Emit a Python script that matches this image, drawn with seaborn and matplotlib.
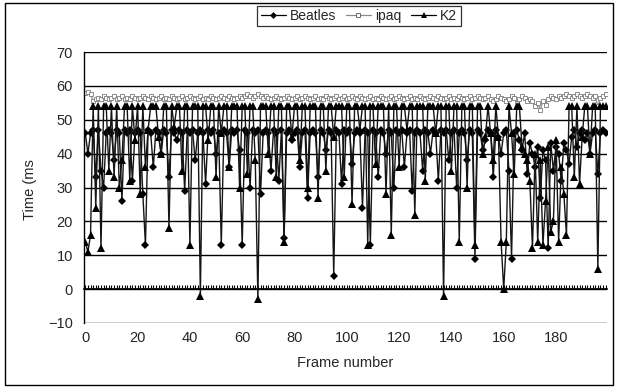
import matplotlib
matplotlib.use("Agg")
import matplotlib.pyplot as plt
import seaborn as sns
import numpy as np
import pandas as pd
from matplotlib.lines import Line2D

frames = list(range(200))

beatles = [
    46, 40, 46, 47, 33, 47, 35, 30, 46, 47,
    46, 38, 47, 46, 26, 47, 46, 47, 32, 46,
    47, 46, 28, 13, 47, 46, 36, 47, 46, 40,
    47, 46, 33, 47, 46, 44, 47, 46, 29, 47,
    46, 47, 38, 46, 47, 46, 31, 47, 46, 47,
    40, 46, 13, 47, 46, 36, 47, 46, 47, 41,
    13, 47, 46, 30, 47, 46, 47, 28, 46, 47,
    46, 35, 47, 46, 32, 47, 15, 46, 47, 44,
    46, 47, 36, 46, 47, 27, 46, 47, 46, 33,
    47, 46, 41, 47, 46, 4, 47, 46, 31, 47,
    46, 47, 37, 46, 47, 46, 24, 47, 46, 13,
    47, 46, 33, 47, 46, 40, 47, 46, 30, 47,
    46, 47, 36, 46, 47, 29, 46, 47, 46, 35,
    47, 46, 40, 47, 46, 32, 47, 46, 47, 38,
    46, 47, 30, 46, 47, 46, 38, 47, 46, 9,
    47, 46, 41, 44, 47, 46, 33, 47, 45, 40,
    46, 47, 35, 9, 46, 47, 44, 41, 46, 34,
    43, 40, 36, 42, 27, 41, 38, 12, 43, 35,
    42, 40, 32, 43, 41, 37, 45, 47, 42, 46,
    47, 44, 46, 40, 46, 47, 34, 46, 47, 46,
]

ipaq = [
    58.0, 58.2, 57.5, 55.5, 56.0, 56.5, 56.0, 57.0, 56.5, 56.0,
    56.5, 57.0, 56.0, 56.5, 57.0, 56.0, 56.5, 56.0, 57.0, 56.5,
    56.0, 56.5, 57.0, 56.5, 56.0, 57.0, 56.5, 56.0, 56.5, 57.0,
    56.0, 56.5, 56.0, 57.0, 56.5, 56.0, 56.5, 57.0, 56.0, 56.5,
    57.0, 56.5, 56.0, 56.5, 57.0, 56.0, 56.5, 56.0, 57.0, 56.5,
    56.0, 56.5, 57.0, 56.5, 56.0, 57.0, 56.5, 56.0, 56.5, 57.0,
    56.5, 57.0, 57.5, 57.0, 56.5, 57.0, 57.5, 57.0, 56.5, 57.0,
    56.5, 56.0, 56.5, 57.0, 56.5, 56.0, 56.5, 57.0, 56.5, 56.0,
    56.5, 57.0, 56.0, 56.5, 57.0, 56.5, 56.0, 56.5, 57.0, 56.0,
    56.5, 56.0, 57.0, 56.5, 56.0, 56.5, 57.0, 56.0, 56.5, 57.0,
    56.0, 56.5, 57.0, 56.5, 56.0, 57.0, 56.5, 56.0, 56.5, 57.0,
    56.0, 56.5, 56.0, 57.0, 56.5, 56.0, 56.5, 57.0, 56.0, 56.5,
    57.0, 56.5, 56.0, 56.5, 57.0, 56.0, 56.5, 56.0, 57.0, 56.5,
    56.0, 56.5, 57.0, 56.5, 56.0, 57.0, 56.5, 56.0, 56.5, 57.0,
    56.0, 56.5, 56.0, 57.0, 56.5, 56.0, 56.5, 57.0, 56.0, 56.5,
    57.0, 56.5, 56.0, 56.5, 57.0, 56.0, 55.5, 56.0, 57.0, 56.5,
    56.0, 55.5, 56.0, 57.0, 56.5, 55.0, 56.0, 57.0, 56.5, 55.5,
    56.0, 55.5, 54.0, 55.0, 53.0, 55.5, 54.5, 56.0, 57.0, 56.5,
    56.0, 57.0, 56.5, 57.0, 57.5, 57.0, 56.5, 57.0, 57.5, 57.0,
    56.5, 57.0, 57.5, 57.0, 56.5, 57.0, 54.0, 56.5, 57.0, 57.5,
]

k2 = [
    14, 11, 16, 54, 24, 54, 12, 54, 54, 35,
    54, 33, 54, 30, 38, 54, 54, 32, 54, 44,
    54, 28, 54, 36, 47, 54, 54, 54, 45, 40,
    54, 54, 18, 54, 48, 54, 54, 35, 54, 54,
    13, 54, 54, 54, -2, 54, 54, 44, 54, 54,
    33, 54, 46, 54, 54, 36, 54, 54, 54, 30,
    54, 54, 34, 54, 54, 38, -3, 54, 54, 54,
    40, 54, 54, 33, 54, 54, 14, 54, 54, 45,
    54, 54, 38, 54, 54, 30, 54, 54, 54, 27,
    54, 54, 35, 54, 54, 45, 54, 54, 54, 33,
    54, 54, 25, 54, 54, 47, 54, 54, 13, 54,
    54, 37, 54, 54, 54, 28, 54, 16, 54, 54,
    36, 54, 54, 47, 54, 54, 22, 54, 54, 54,
    32, 54, 54, 54, 46, 54, 54, -2, 54, 54,
    35, 54, 54, 14, 54, 54, 30, 54, 54, 13,
    54, 54, 40, 45, 54, 46, 38, 54, 45, 14,
    0, 14, 54, 46, 34, 54, 54, 42, 40, 38,
    32, 12, 40, 14, 38, 13, 26, 42, 17, 20,
    44, 14, 36, 28, 16, 54, 54, 33, 54, 31,
    45, 54, 54, 40, 54, 54, 6, 54, 54, 54,
]

series_names = ["Beatles", "ipaq", "K2"]
x_tick_labels = [0, 20, 40, 60, 80, 100, 120, 140, 160, 180]
y_ticks = [-10, 0, 10, 20, 30, 40, 50, 60, 70]

sns.set_style("white")
plt.rcParams["font.family"] = ["Liberation Sans", "DejaVu Sans"]

fig = plt.figure(figsize=(6.19, 3.91), dpi=100)
ax = fig.add_axes([84 / 619, 1 - 323 / 391, (607 - 84) / 619, (323 - 52) / 391])

df_b = pd.DataFrame({"frame": frames, "value": beatles})
df_i = pd.DataFrame({"frame": frames, "value": ipaq})
df_k = pd.DataFrame({"frame": frames, "value": k2})

sns.lineplot(data=df_b, x="frame", y="value", ax=ax, color="#151515", lw=1.0,
             marker="D", markersize=4.3, markeredgewidth=0, markerfacecolor="black")
sns.lineplot(data=df_i, x="frame", y="value", ax=ax, color="#8f8f8f", lw=0.9,
             marker="s", markersize=3.0, markerfacecolor="white",
             markeredgecolor="#7a7a7a", markeredgewidth=0.6)
sns.lineplot(data=df_k, x="frame", y="value", ax=ax, color="#151515", lw=1.0,
             marker="^", markersize=5.3, markeredgewidth=0, markerfacecolor="black")

ax.set_xlim(-0.5, 199.5)
ax.set_ylim(-10, 70)
ax.set_yticks(y_ticks)
ax.set_yticklabels([("\u221210" if t < 0 else str(t)) for t in y_ticks], fontsize=10.5)
ax.yaxis.grid(True, color="black", lw=1.0)
ax.set_axisbelow(True)
for s in ["top", "right"]:
    ax.spines[s].set_visible(False)
ax.spines["left"].set_color("black")
ax.spines["left"].set_linewidth(1.0)
ax.tick_params(axis="y", length=0, pad=8)

# category axis crossing at zero with a tick per frame
ax.spines["bottom"].set_position(("data", 0))
ax.spines["bottom"].set_color("black")
ax.spines["bottom"].set_linewidth(1.2)
ax.set_xticks(frames)
ax.tick_params(axis="x", bottom=True, direction="in", length=3.0, width=0.8,
               labelbottom=False, color="black")
ax.set_xlabel("")
ax.set_ylabel("")

sec = ax.secondary_xaxis(0)
sec.set_xticks(x_tick_labels)
sec.set_xticklabels([str(v) for v in x_tick_labels], fontsize=10.5)
sec.tick_params(length=0, pad=6)
sec.spines["bottom"].set_visible(False)

fig.text(345 / 619, 1 - 363 / 391, "Frame number", ha="center", va="center", fontsize=10.5)
fig.text(30 / 619, 1 - 190 / 391, "Time (ms", ha="center", va="center", rotation=90, fontsize=10.5)

handles = [
    Line2D([], [], color="black", lw=0.9, marker="D", markersize=3.5, markeredgewidth=0),
    Line2D([], [], color="#8a8a8a", lw=0.9, marker="s", markersize=3, markerfacecolor="white",
           markeredgecolor="#6a6a6a", markeredgewidth=0.7),
    Line2D([], [], color="black", lw=0.9, marker="^", markersize=4.5, markeredgewidth=0),
]
leg = fig.legend(handles, series_names, loc="center", bbox_to_anchor=(359 / 619, 1 - 16 / 391),
                 ncol=3, fontsize=10, frameon=True, fancybox=False, handlelength=1.8,
                 handletextpad=0.3, columnspacing=0.7, borderpad=0.25, edgecolor="black")
leg.get_frame().set_linewidth(0.9)

border = plt.Rectangle((5 / 619, 1 - 385 / 391), (613 - 5) / 619, (385 - 3) / 391,
                       transform=fig.transFigure, fill=False, edgecolor="black", lw=1.0)
fig.patches.append(border)

fig.savefig("out.png", dpi=100)
